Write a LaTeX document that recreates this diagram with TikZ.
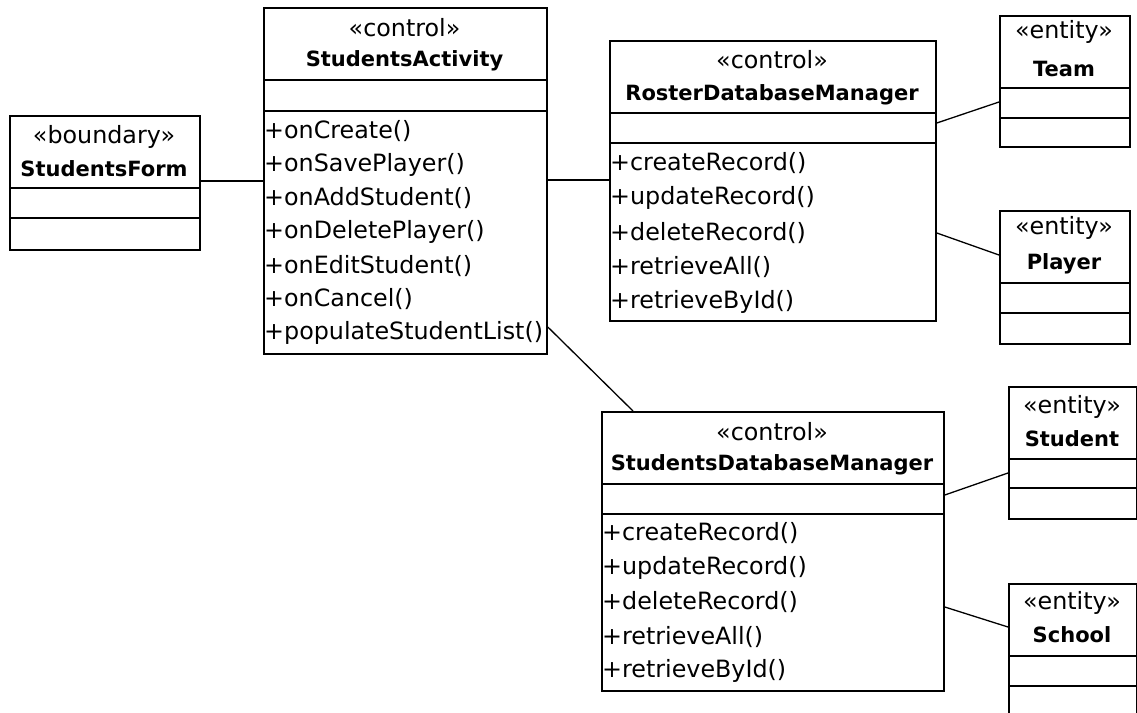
\documentclass[tikz,border=0pt]{standalone}
\usepackage{fontspec}
\setmainfont{DejaVu Sans}
\usetikzlibrary{positioning}

% one class box: name, left, top, width, height
\newcommand{\clsbox}[5]{\node[cls, minimum width=#4pt, minimum height=#5pt] (#1) at (#2,#3) {};}
% the two compartment lines of a class box
\newcommand{\compart}[3]{%
  \draw[cmp] (#1.west |- 0,#2) -- (#1.east |- 0,#2);
  \draw[cmp] (#1.west |- 0,#3) -- (#1.east |- 0,#3);}

\begin{document}
\begin{tikzpicture}[x=1pt,y=-1pt,
    cls/.style={draw, line width=1.8pt, anchor=north west, inner sep=0pt},
    cmp/.style={line width=1.8pt},
    assoc/.style={line width=1.3pt},
    stereo/.style={inner sep=0pt, font=\fontsize{23.8}{26}\selectfont},
    cname/.style={inner sep=0pt, font=\fontsize{21}{24}\selectfont\bfseries},
    op/.style={anchor=west, inner sep=1pt, font=\fontsize{23.8}{26}\selectfont}]
  \clip (0,0) rectangle (1137,712);

  % boundary
  \clsbox{sf}{9}{115}{190}{134}
  \compart{sf}{188}{218}
  \node[stereo] (sf-st) at (104,137) {«boundary»};
  \node[cname] (sf-nm) at (104,169) {StudentsForm};

  % activity
  \clsbox{sa}{263}{7}{283}{346}
  \compart{sa}{80}{111}
  \node[stereo] (sa-st) at (404.5,28) {«control»};
  \node[cname] (sa-nm) at (404.5,61) {StudentsActivity};
  \foreach \m [count=\i] in {onCreate(),onSavePlayer(),onAddStudent(),onDeletePlayer(),onEditStudent(),onCancel(),populateStudentList()}
    \node[op] (sa-op\i) at (263,{131+33.7*(\i-1)}) {+\m};

  % roster manager
  \clsbox{rdm}{609}{40}{326}{280}
  \compart{rdm}{113}{143}
  \node[stereo] (rdm-st) at (772,60) {«control»};
  \node[cname] (rdm-nm) at (772,95) {RosterDatabaseManager};
  \foreach \m [count=\i] in {createRecord(),updateRecord(),deleteRecord(),retrieveAll(),retrieveById()}
    \node[op] (rdm-op\i) at (609,{163+34.8*(\i-1)}) {+\m};

  % students manager
  \clsbox{sdm}{601}{411}{342}{279}
  \compart{sdm}{484}{514}
  \node[stereo] (sdm-st) at (772,432) {«control»};
  \node[cname] (sdm-nm) at (772,465) {StudentsDatabaseManager};
  \foreach \m [count=\i] in {createRecord(),updateRecord(),deleteRecord(),retrieveAll(),retrieveById()}
    \node[op] (sdm-op\i) at (601,{533+34.6*(\i-1)}) {+\m};

  % entities
  \clsbox{team}{999}{15}{130}{131}
  \compart{team}{88}{118}
  \node[stereo] (team-st) at (1064,32) {«entity»};
  \node[cname] (team-nm) at (1064,69) {Team};

  \clsbox{player}{999}{210}{130}{133}
  \compart{player}{283}{313}
  \node[stereo] (player-st) at (1064,228) {«entity»};
  \node[cname] (player-nm) at (1064,264) {Player};

  \clsbox{student}{1008}{386}{128}{132}
  \compart{student}{459}{488}
  \node[stereo] (student-st) at (1072,407) {«entity»};
  \node[cname] (student-nm) at (1072,439) {Student};

  \clsbox{school}{1008}{583}{128}{135}
  \compart{school}{656}{686}
  \node[stereo] (school-st) at (1072,603) {«entity»};
  \node[cname] (school-nm) at (1072,635) {School};

  % associations
  \draw[assoc] (sf.east |- 0,181) -- (sa.west |- 0,181);
  \draw[assoc] (sa.east |- 0,180) -- (rdm.west |- 0,180);
  \draw[assoc] (sa.east |- 0,327) -- (sdm.north -| 633,0);
  \draw[assoc] (rdm.east |- 0,123) -- (team.west |- 0,102);
  \draw[assoc] (rdm.east |- 0,233) -- (player.west |- 0,255);
  \draw[assoc] (sdm.east |- 0,495) -- (student.west |- 0,473);
  \draw[assoc] (sdm.east |- 0,607) -- (school.west |- 0,627);
\end{tikzpicture}
\end{document}
